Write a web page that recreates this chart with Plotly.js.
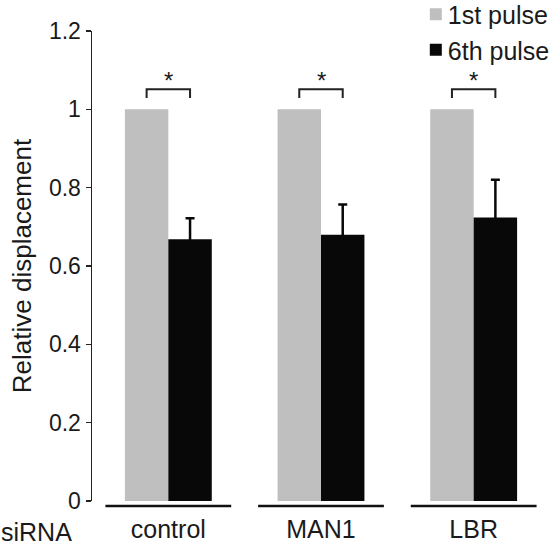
<!DOCTYPE html>
<html>
<head>
<meta charset="utf-8">
<script src="https://cdn.plot.ly/plotly-3.0.1.min.js"></script>
<style>html,body{margin:0;padding:0;background:#fff;}#chart{width:557px;height:550px;}</style>
</head>
<body>
<div id="chart"></div>
<script>
// Data
const categories = ['control', 'MAN1', 'LBR'];
const firstPulse = [1, 1, 1];
const sixthPulse = [0.668, 0.680, 0.724];
const sixthPulseErr = [0.054, 0.077, 0.096];
const seriesNames = ['1st pulse', '6th pulse'];
const significance = ['*', '*', '*'];
const yTickVals = [0, 0.2, 0.4, 0.6, 0.8, 1, 1.2];
const yTickText = ['0', '0.2', '0.4', '0.6', '0.8', '1', '1.2'];
const groupLabel = 'siRNA';
const yTitle = 'Relative displacement';

const FONT = 'Liberation Sans, Arial, Helvetica, sans-serif';
const TXT = '#1a1a1a';
const BLACK = '#080808';
const idx = categories.map((c, i) => i);

const traces = [
  {
    type: 'bar', name: seriesNames[0], x: idx, y: firstPulse,
    marker: {color: '#bfbfbf', line: {width: 0}},
    hoverinfo: 'skip'
  },
  {
    type: 'bar', name: seriesNames[1], x: idx, y: sixthPulse,
    marker: {color: BLACK, line: {width: 0}},
    error_y: {type: 'data', array: sixthPulseErr, symmetric: true,
              color: BLACK, thickness: 2.5, width: 4.5},
    hoverinfo: 'skip'
  }
];

const BARGAP = 0.431;
const half = (1 - BARGAP) / 4; // offset of each bar center from the group center
const bracketTop = 1.051, bracketLeg = 1.029;
const shapes = [];
const annotations = [];
idx.forEach(i => {
  shapes.push({
    type: 'path', xref: 'x', yref: 'y',
    path: `M ${i - half},${bracketLeg} L ${i - half},${bracketTop} L ${i + half},${bracketTop} L ${i + half},${bracketLeg}`,
    line: {color: '#222', width: 2}
  });
  shapes.push({
    type: 'line', xref: 'x', yref: 'paper',
    x0: i - 0.412, x1: i + 0.412, y0: -0.0106, y1: -0.0106,
    line: {color: '#111', width: 2.5}
  });
  annotations.push({
    xref: 'x', yref: 'y', x: i, y: bracketTop, yanchor: 'bottom',
    text: significance[i], showarrow: false, yshift: -7,
    font: {family: FONT, size: 24, color: TXT}
  });
});
annotations.push({
  xref: 'paper', yref: 'paper', x: -0.122, y: -0.066, xanchor: 'center', yanchor: 'middle',
  text: groupLabel, showarrow: false,
  font: {family: FONT, size: 25, color: TXT}
});

const layout = {
  width: 557, height: 550,
  margin: {l: 92, r: 6.6, t: 31, b: 49, autoexpand: false},
  paper_bgcolor: '#fff', plot_bgcolor: '#fff',
  barmode: 'group', bargap: BARGAP, bargroupgap: 0,
  showlegend: true,
  legend: {
    x: 0.707, y: 1.084, xanchor: 'left', yanchor: 'top',
    font: {family: FONT, size: 25, color: TXT},
    bgcolor: 'rgba(0,0,0,0)', borderwidth: 0, itemwidth: 30, tracegroupgap: 0
  },
  xaxis: {
    range: [-0.5, 2.5], tickvals: idx, ticktext: categories,
    showline: false, ticks: '', showgrid: false, zeroline: false,
    tickfont: {family: FONT, size: 25, color: TXT}, ticklabelstandoff: 11
  },
  yaxis: {
    range: [0, 1.2], tickvals: yTickVals, ticktext: yTickText,
    showline: true, linecolor: '#222', linewidth: 1.5,
    ticks: 'outside', ticklen: 5, tickwidth: 1.5, tickcolor: '#222',
    showgrid: false, zeroline: false,
    tickfont: {family: FONT, size: 23, color: TXT},
    title: {text: yTitle, font: {family: FONT, size: 26, color: TXT}, standoff: 10}
  },
  shapes: shapes,
  annotations: annotations,
  font: {family: FONT, color: TXT}
};

Plotly.newPlot('chart', traces, layout, {displayModeBar: false, staticPlot: true}).then(gd => {
  // tighten the gap between legend swatch and label, as in the reference
  gd.querySelectorAll('.legendtext').forEach(t => {
    t.setAttribute('x', String(parseFloat(t.getAttribute('x')) - 8));
  });
});
</script>
</body>
</html>
